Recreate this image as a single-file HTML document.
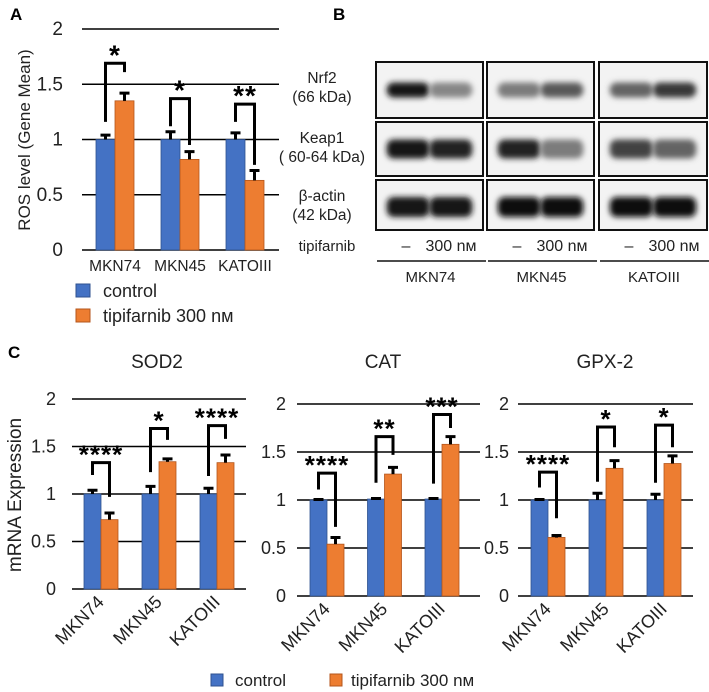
<!DOCTYPE html>
<html><head><meta charset="utf-8"><style>
body{margin:0;background:#fff;}
svg{display:block;font-family:"Liberation Sans",Arial,sans-serif;}
</style></head><body>
<svg id="fig" width="709" height="692" viewBox="0 0 709 692" xmlns="http://www.w3.org/2000/svg">
<defs>
<filter id="blur" x="-20%" y="-60%" width="140%" height="220%"><feGaussianBlur stdDeviation="2.8"/></filter>
</defs>
<g id="root"></g>
</svg>
<script>
// ---------- data ----------
const categories = ["MKN74","MKN45","KATOIII"];
const rosControl = [1,1,1];
const rosControlErr = [0.04,0.07,0.06];
const rosTip = [1.35,0.82,0.63];
const rosTipErr = [0.07,0.07,0.09];
const rosSig = ["*","*","**"];
const rosBrTop = [1.69,1.37,1.32];
const rosBrLeft = [1.16,1.12,1.16];
const rosBrRight = [1.61,0.95,0.77];

const sodControl = [1,1,1];
const sodControlErr = [0.04,0.08,0.06];
const sodTip = [0.73,1.34,1.33];
const sodTipErr = [0.07,0.03,0.08];
const sodSig = ["****","*","****"];
const sodBrTop = [1.33,1.69,1.72];
const sodBrLeft = [1.2,1.23,1.19];
const sodBrRight = [0.97,1.57,1.58];

const catControl = [1,1.01,1.01];
const catControlErr = [0.005,0.005,0.005];
const catTip = [0.54,1.27,1.58];
const catTipErr = [0.07,0.07,0.08];
const catSig = ["****","**","***"];
const catBrTop = [1.28,1.66,1.89];
const catBrLeft = [1.11,1.18,1.17];
const catBrRight = [0.72,1.47,1.75];

const gpxControl = [1,1,1];
const gpxControlErr = [0.005,0.07,0.06];
const gpxTip = [0.61,1.33,1.38];
const gpxTipErr = [0.02,0.08,0.08];
const gpxSig = ["****","*","*"];
const gpxBrTop = [1.29,1.76,1.78];
const gpxBrLeft = [1.13,1.19,1.18];
const gpxBrRight = [0.81,1.55,1.55];

const yTicks = [0,0.5,1,1.5,2];
const yTickLabels = ["0","0.5","1","1.5","2"];

// blot band intensities (0..1 darkness) [row][lane]
const blotRows = ["Nrf2","Keap1","β-actin"];
const blotMKN74 = [[0.95,0.45],[0.95,0.9],[0.95,0.95]];
const blotMKN45 = [[0.5,0.65],[0.9,0.5],[1,1]];
const blotKATO = [[0.6,0.8],[0.75,0.6],[1,1]];

// ---------- helpers ----------
const NS="http://www.w3.org/2000/svg";
const root=document.getElementById('root');
function el(tag,attrs,parent,text){
  const e=document.createElementNS(NS,tag);
  for(const k in attrs) e.setAttribute(k,attrs[k]);
  if(text!==undefined) e.textContent=text;
  (parent||root).appendChild(e);
  return e;
}
const BLUE="#4472C4", ORANGE="#ED7D31";

function chart(name,cfg,ctrl,ctrlErr,tip,tipErr,sig,brTop,brLeft,brRight){
  const g=el('g',{});
  
  
  const y=v=>cfg.zero - v*cfg.ppu;
  const cx=i=>cfg.c0 + i*cfg.step;
  yTicks.forEach((t,i)=>{
    const l=el('line',{x1:cfg.gx0,x2:cfg.gx1,y1:y(t),y2:y(t),stroke:'#000','stroke-width':1.5},g);
    
    
    const tx=el('text',{x:cfg.tickX,y:y(t)+6,'text-anchor':'end','font-size':cfg.fs,fill:'#222'},g,yTickLabels[i]);
    
    
  });
  const w=cfg.bw;
  categories.forEach((c,i)=>{
    const b1=el('rect',{x:cx(i)-w,y:y(ctrl[i]),width:w,height:y(0)-y(ctrl[i]),fill:BLUE,stroke:'#2f528f','stroke-width':0.8},g);
    
    
    const b2=el('rect',{x:cx(i),y:y(tip[i]),width:w,height:y(0)-y(tip[i]),fill:ORANGE,stroke:'#b4561c','stroke-width':0.8},g);
    
    
    [[cx(i)-w/2,ctrl[i],ctrlErr[i]],[cx(i)+w/2,tip[i],tipErr[i]]].forEach(([x,v,e])=>{
      const eb=el('path',{d:`M${x},${y(v)} V${y(v+e)} M${x-5},${y(v+e)} H${x+5}`,stroke:'#000','stroke-width':3,fill:'none'},g);
      
      
    });
    const xl=cx(i)-w/2, xr=cx(i)+w/2;
    const br=el('path',{d:`M${xl},${y(brLeft[i])} V${y(brTop[i])} H${xr} V${y(brRight[i])}`,stroke:'#000','stroke-width':3,fill:'none'},g);
    
    
    const st=el('text',{x:cx(i),y:y(brTop[i])+cfg.starDy,'text-anchor':'middle','font-size':cfg.starFs,'font-weight':'bold',fill:'#000','letter-spacing':'1'},g,sig[i]);
    
    
    let xt;
    if(cfg.rot){
      xt=el('text',{x:cx(i)+4,y:y(0)+14,'text-anchor':'end','font-size':cfg.fs,fill:'#222',transform:`rotate(-45 ${cx(i)+4} ${y(0)+14})`},g,c);
    } else {
      xt=el('text',{x:cx(i),y:y(0)+21,'text-anchor':'middle','font-size':15.5,fill:'#222'},g,c);
    }
    
    
  });
  if(cfg.title){
    const t=el('text',{x:cfg.titleX,y:368,'text-anchor':'middle','font-size':19,fill:'#222'},g,cfg.title);
    
    
  }
}

// ---------- panel A ----------
chart('ros',{zero:250,ppu:110.5,c0:115,step:65,bw:19,gx0:82,gx1:279,tickX:63,fs:19,starFs:28,starDy:1,rot:false},
  rosControl,rosControlErr,rosTip,rosTipErr,rosSig,rosBrTop,rosBrLeft,rosBrRight);
let t;
t=el('text',{x:10,y:20,'font-size':17,'font-weight':'bold'},root,'A');


t=el('text',{x:0,y:0,'font-size':17,fill:'#222','text-anchor':'middle',transform:'translate(30,140) rotate(-90)'},root,'ROS level (Gene Mean)');


t=el('rect',{x:76,y:284,width:14,height:13,fill:BLUE,stroke:'#2f528f'},root);


t=el('text',{x:103,y:297,'font-size':18,fill:'#222'},root,'control');


t=el('rect',{x:76,y:309,width:14,height:13,fill:ORANGE,stroke:'#b4561c'},root);


t=el('text',{x:103,y:322,'font-size':18,fill:'#222'},root,'tipifarnib  300 nᴍ');



// ---------- panel B ----------
t=el('text',{x:333,y:20,'font-size':17,'font-weight':'bold'},root,'B');


const rowY=[[62,118],[122,176],[180,230]];
const cols=[[376,483],[487,594],[599,707]];
const blotData=[blotMKN74,blotMKN45,blotKATO];
const labelTxt=[["Nrf2","(66 kDa)"],["Keap1","( 60-64 kDa)"],["β-actin","(42 kDa)"]];
labelTxt.forEach((p,r)=>{
  t=el('text',{x:322,y:rowY[r][0]+21,'text-anchor':'middle','font-size':15.5,fill:'#222'},root,p[0]);
  
  
  t=el('text',{x:322,y:rowY[r][0]+40,'text-anchor':'middle','font-size':15.5,fill:'#222'},root,p[1]);
  
  
});
cols.forEach((c,ci)=>{
  rowY.forEach((ry,r)=>{
    const bx=el('rect',{x:c[0],y:ry[0],width:c[1]-c[0],height:ry[1]-ry[0],fill:'#f3f3f3',stroke:'#111','stroke-width':2},root);
    
    
    const mid=(ry[0]+ry[1])/2 + (r===2?2:0);
    const w=c[1]-c[0];
    [0,1].forEach(l=>{
      const d=blotData[ci][r][l];
      const lx=c[0]+w*(l===0?0.1:0.5);
      const gray=Math.round(235-225*d);
      const h=r===1?19:(r===2?20:15);
      const b=el('rect',{x:lx,y:mid-h/2,width:w*0.4,height:h,rx:7,fill:`rgb(${gray},${gray},${gray})`,filter:'url(#blur)'},root);
      
      
    });
  });
  t=el('text',{x:c[0]+30,y:251,'text-anchor':'middle','font-size':16,fill:'#222'},root,'–');
  
  
  t=el('text',{x:c[0]+75,y:251,'text-anchor':'middle','font-size':16,fill:'#222'},root,'300 nᴍ');
  
  
  t=el('line',{x1:c[0]+1,x2:c[1]+3,y1:261,y2:261,stroke:'#111','stroke-width':1.5},root);
  
  
  t=el('text',{x:(c[0]+c[1])/2+1,y:282,'text-anchor':'middle','font-size':15,fill:'#222'},root,categories[ci]);
  
  
});
t=el('text',{x:327,y:251,'text-anchor':'middle','font-size':15,fill:'#222'},root,'tipifarnib');



// ---------- panel C ----------
t=el('text',{x:8,y:358,'font-size':17,'font-weight':'bold'},root,'C');


t=el('text',{x:0,y:0,'font-size':19,fill:'#222','text-anchor':'middle',transform:'translate(21,495) rotate(-90)'},root,'mRNA Expression');


chart('sod2',{zero:589,ppu:95,c0:101,step:58,bw:17,gx0:72,gx1:246,tickX:56,fs:18,starFs:26,starDy:1,rot:true,title:'SOD2',titleX:157},
  sodControl,sodControlErr,sodTip,sodTipErr,sodSig,sodBrTop,sodBrLeft,sodBrRight);
chart('cat',{zero:596,ppu:96,c0:327,step:57.5,bw:17,gx0:297,gx1:480,tickX:286,fs:18,starFs:26,starDy:1,rot:true,title:'CAT',titleX:383},
  catControl,catControlErr,catTip,catTipErr,catSig,catBrTop,catBrLeft,catBrRight);
chart('gpx2',{zero:596,ppu:96,c0:548,step:58,bw:17,gx0:518,gx1:693,tickX:509,fs:18,starFs:26,starDy:1,rot:true,title:'GPX-2',titleX:605},
  gpxControl,gpxControlErr,gpxTip,gpxTipErr,gpxSig,gpxBrTop,gpxBrLeft,gpxBrRight);
t=el('rect',{x:211,y:674,width:12,height:12,fill:BLUE,stroke:'#2f528f'},root);


t=el('text',{x:235,y:686,'font-size':17,fill:'#222'},root,'control');


t=el('rect',{x:330,y:674,width:12,height:12,fill:ORANGE,stroke:'#b4561c'},root);


t=el('text',{x:351,y:686,'font-size':17,fill:'#222'},root,'tipifarnib  300 nᴍ');


</script>
</body></html>
